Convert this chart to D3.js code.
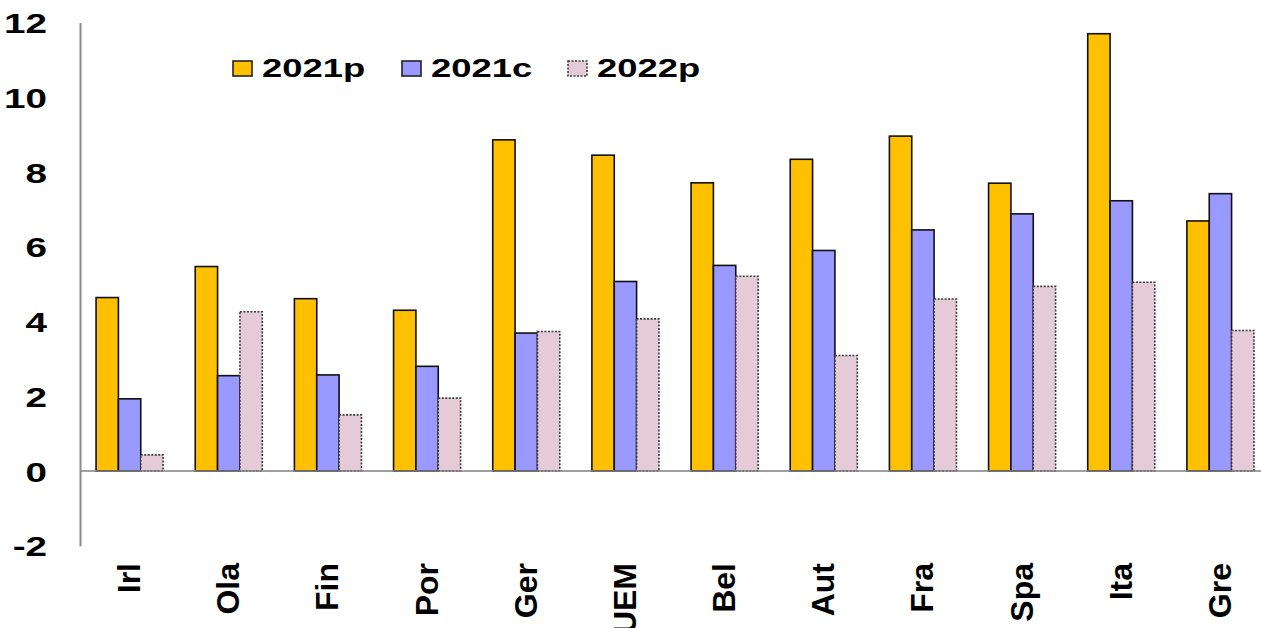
<!DOCTYPE html>
<html>
<head>
<meta charset="utf-8">
<script src="https://cdn.jsdelivr.net/npm/d3@7/dist/d3.min.js"></script>
<style>
  html, body { margin: 0; padding: 0; background: #fff; }
  svg { display: block; }
  text { font-family: "Liberation Sans", Arial, sans-serif; font-weight: bold; fill: #000; }
</style>
</head>
<body>
<svg id="chart" width="1261" height="628"></svg>
<script>
const categories = ["Irl", "Ola", "Fin", "Por", "Ger", "UEM", "Bel", "Aut", "Fra", "Spa", "Ita", "Gre"];
const seriesNames = ["2021p", "2021c", "2022p"];
const values2021p = [4.64, 5.47, 4.61, 4.30, 8.86, 8.45, 7.71, 8.34, 8.96, 7.70, 11.70, 6.69];
const values2021c = [1.93, 2.55, 2.57, 2.80, 3.69, 5.07, 5.50, 5.90, 6.45, 6.88, 7.23, 7.42];
const values2022p = [0.43, 4.26, 1.50, 1.95, 3.73, 4.07, 5.21, 3.09, 4.60, 4.94, 5.05, 3.76];
const yTicks = [-2, 0, 2, 4, 6, 8, 10, 12];

const colors = { "2021p": "#FFC000", "2021c": "#9999FF", "2022p": "#E5CBD8" };
const seriesValues = { "2021p": values2021p, "2021c": values2021c, "2022p": values2022p };

const svg = d3.select("#chart");

const y = d3.scaleLinear().domain([-2, 12]).range([545.7, 22.5]);
const x0 = d3.scaleBand().domain(categories).range([80, 1270]).paddingInner(0.324).paddingOuter(0.162);
const x1 = d3.scaleBand().domain(seriesNames).range([0, x0.bandwidth()]);

const rows = categories.map((c, i) => ({
  cat: c,
  vals: seriesNames.map(s => ({ s, v: seriesValues[s][i] }))
}));

// Bars
const g = svg.append("g");
const groups = g.selectAll("g.grp").data(rows).join("g")
  .attr("transform", d => `translate(${x0(d.cat)},0)`);
groups.selectAll("rect").data(d => d.vals).join("rect")
  .attr("x", d => x1(d.s))
  .attr("width", x1.bandwidth())
  .attr("y", d => y(Math.max(0, d.v)))
  .attr("height", d => Math.abs(y(d.v) - y(0)))
  .attr("fill", d => colors[d.s])
  .attr("stroke", d => d.s === "2022p" ? "#3a3a3a" : "#111")
  .attr("stroke-width", 1.6)
  .attr("stroke-dasharray", d => d.s === "2022p" ? "2,1.5" : null);

// Zero line
svg.append("line")
  .attr("x1", 80).attr("x2", 1261)
  .attr("y1", y(0)).attr("y2", y(0))
  .attr("stroke", "#808080").attr("stroke-width", 1.5);

// Y axis
const yAxis = d3.axisLeft(y).tickValues(yTicks).tickSize(0).tickPadding(0);
const ax = svg.append("g").attr("transform", "translate(80,0)").call(yAxis);
ax.select(".domain").attr("stroke", "#8c8c8c").attr("stroke-width", 2);
ax.selectAll(".tick text").remove();
ax.selectAll(".tick").append("text")
  .attr("text-anchor", "end")
  .attr("dy", "0.36em")
  .attr("transform", "translate(-33,0) scale(1.38,1)")
  .style("font-size", "28px")
  .text(d => d);

// Category labels
const xAxis = d3.axisBottom(x0).tickSize(0);
const xa = svg.append("g").attr("transform", "translate(0,0)").call(xAxis);
xa.select(".domain").remove();
xa.selectAll(".tick text").remove();
xa.selectAll(".tick").append("text")
  .attr("text-anchor", "end")
  .attr("transform", "translate(-1,563) rotate(-90)")
  .attr("dy", "0.36em")
  .style("font-size", "32px")
  .text(d => d);

// Legend
const legendX = [233, 402, 568];
const leg = svg.append("g");
seriesNames.forEach((s, i) => {
  leg.append("rect")
    .attr("x", legendX[i]).attr("y", 61)
    .attr("width", 19).attr("height", 15)
    .attr("fill", colors[s])
    .attr("stroke", s === "2022p" ? "#3a3a3a" : "#222")
    .attr("stroke-width", 1.6)
    .attr("stroke-dasharray", s === "2022p" ? "2,1.5" : null);
  leg.append("text")
    .attr("transform", `translate(${legendX[i] + 29},77) scale(1.4,1)`)
    .style("font-size", "26px")
    .text(s);
});
</script>
</body>
</html>
